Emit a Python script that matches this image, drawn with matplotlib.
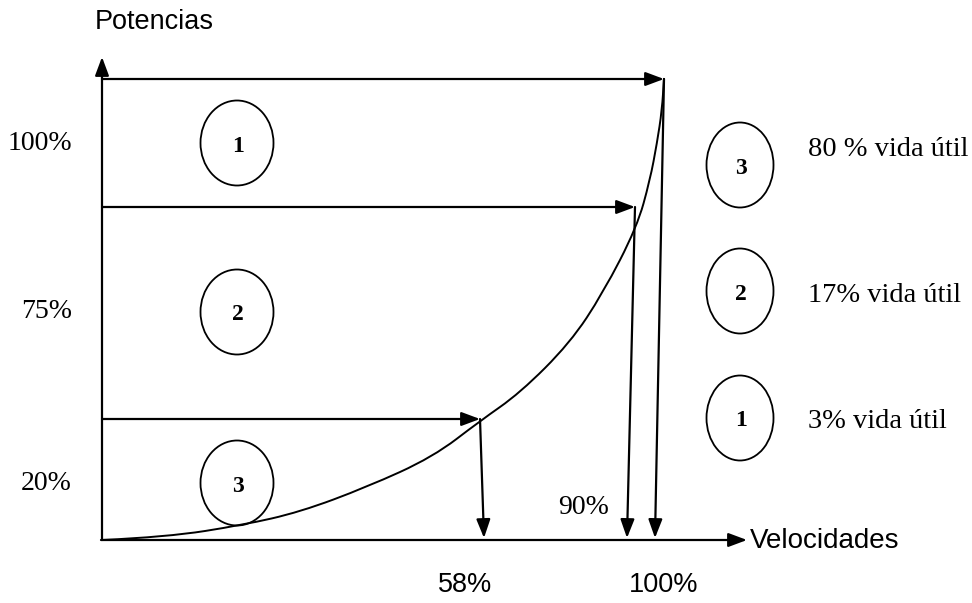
import matplotlib
matplotlib.use("Agg")
import matplotlib.pyplot as plt
from matplotlib.patches import Ellipse, PathPatch
from matplotlib.path import Path

# schematic drawn in pixel space of the original picture (y grows downward)
power_labels = ["100%", "75%", "20%"]
zone_numbers = ["1", "2", "3"]
life_numbers = ["3", "2", "1"]
life_labels = ["80 % vida útil", "17% vida útil", "3% vida útil"]
speed_labels = ["58%", "90%", "100%"]

# curve
curve_x = [102, 167, 243, 300, 367, 433, 480, 520, 570, 603, 637, 650, 657, 662, 664]
curve_y = [540, 537, 525, 512, 487, 457, 421, 393, 343, 293, 227, 180, 143, 110, 78]

# layout
x0, y0 = 102, 540
level_y = [79, 207, 419]          # horizontal arrows
drop_top_x = [664, 635, 480]      # where the arrows meet the curve
drop_bot_x = [655, 627, 484]
zone_y = [143, 312, 483]
life_y = [165, 291, 418]

fig = plt.figure(figsize=(9.72, 6.03), dpi=100)
ax = fig.add_axes([0, 0, 1, 1])
ax.set_xlim(0, 972)
ax.set_ylim(603, 0)
ax.axis("off")

sans = "Liberation Sans"
serif = "Liberation Serif"
lw = 1.6
arr = dict(arrowstyle="-|>,head_length=0.75,head_width=0.28", color="black",
           lw=lw, shrinkA=0, shrinkB=0, mutation_scale=15)

# axes
ax.annotate("", xy=(x0, 57), xytext=(x0, y0), arrowprops=arr)
ax.annotate("", xy=(747, y0), xytext=(x0 - 1, y0), arrowprops=arr)
ax.text(95, 22, "Potencias", fontsize=19.5, family=sans, ha="left", va="center")
ax.text(750, 541, "Velocidades", fontsize=20, family=sans, ha="left", va="center")

# curve, smoothed with quadratic segments through the read points
pts = list(zip(curve_x, curve_y))
verts = [pts[0]]
codes = [Path.MOVETO]
for i in range(1, len(pts) - 1):
    mid = ((pts[i][0] + pts[i + 1][0]) / 2, (pts[i][1] + pts[i + 1][1]) / 2)
    verts += [pts[i], mid]
    codes += [Path.CURVE3, Path.CURVE3]
verts.append(pts[-1])
codes.append(Path.LINETO)
ax.add_patch(PathPatch(Path(verts, codes), fill=False, lw=1.4, ec="black"))

# level arrows and drops
for ly, tx, bx in zip(level_y, drop_top_x, drop_bot_x):
    ax.annotate("", xy=(tx, ly), xytext=(x0, ly), arrowprops=arr)
    ax.annotate("", xy=(bx, y0 - 2), xytext=(tx, ly), arrowprops=arr)

# power labels on the left
for lab, yy in zip(power_labels, zone_y):
    ax.text(72, yy, lab, fontsize=20, family=serif, ha="right", va="center")

# zone circles
for num, yy in zip(zone_numbers, zone_y):
    ax.add_patch(Ellipse((237, yy), 73, 85, fill=False, lw=1.3, ec="black"))
    ax.text(238, yy + 3, num, fontsize=17, family=serif, weight="bold",
            ha="center", va="center")

# life circles on the right
for num, lab, yy in zip(life_numbers, life_labels, life_y):
    ax.add_patch(Ellipse((740, yy), 67, 85, fill=False, lw=1.3, ec="black"))
    ax.text(741, yy + 3, num, fontsize=17, family=serif, weight="bold",
            ha="center", va="center")
    ax.text(808, yy - 15 if num == "3" else yy + 4, lab, fontsize=20.5,
            family=serif, ha="left", va="center")

# speed labels
ax.text(465, 585, speed_labels[0], fontsize=19.5, family=sans, ha="center", va="center")
ax.text(584, 507, speed_labels[1], fontsize=20, family=serif, ha="center", va="center")
ax.text(664, 585, speed_labels[2], fontsize=19.5, family=sans, ha="center", va="center")

fig.savefig("out.png", dpi=100, facecolor="white")
